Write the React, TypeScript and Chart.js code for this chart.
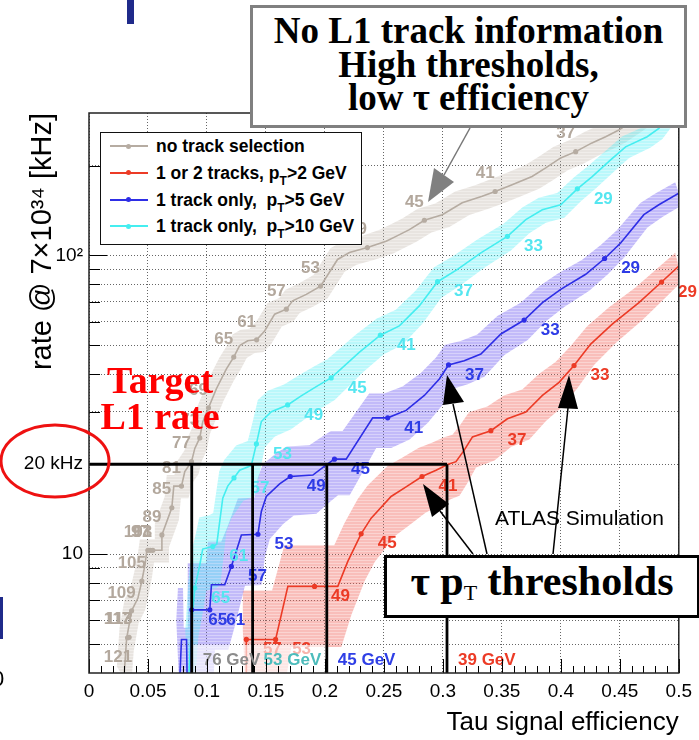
import React, { useEffect, useRef } from 'react';
import { Chart, registerables } from 'chart.js';

Chart.register(...registerables);

type Pt = [number, number];
type Dot = [number, number, number];

// x = tau signal efficiency, y = L1 rate @ 7e34 [kHz]
const grayCurve: Pt[] = [
  [0.0296, 3.86], [0.0319, 5.21], [0.0361, 6.46], [0.0415, 7.13], [0.0448, 8.13], [0.0474, 9.19],
  [0.0491, 10.3], [0.0541, 10.3], [0.0618, 10.3], [0.0618, 11.6], [0.0702, 14.3], [0.0719, 16.9],
  [0.0784, 16.9], [0.0812, 18.9], [0.0869, 20.4], [0.0897, 22.6], [0.0939, 24.5], [0.0964, 27.7],
  [0.108, 35.8], [0.1165, 41.7], [0.1227, 45.7], [0.1277, 49.9], [0.1345, 51.8], [0.1421, 52.2],
  [0.1489, 55.9], [0.1574, 63.6], [0.1673, 66.1], [0.1726, 70.5], [0.1842, 74.1], [0.1963, 79],
  [0.2053, 89.8], [0.2107, 97], [0.2208, 102.3], [0.236, 106.3], [0.2519, 111.6], [0.2603, 115.9],
  [0.2716, 122.1], [0.2843, 131.2], [0.2995, 137], [0.3164, 150.2], [0.3333, 157.8], [0.3443, 163.8],
  [0.3587, 172.5], [0.3756, 183.8], [0.3872, 196.4], [0.3999, 212.2], [0.4126, 222.7], [0.4264, 238.2],
  [0.438, 249.9], [0.4492, 263], [0.4704, 300], [0.483, 318],
];
const grayDots: Dot[] = [
  [0.033, 3.92, 121], [0.0327, 5.25, 117], [0.034, 5.27, 113], [0.0361, 6.46, 109], [0.0448, 8.13, 105],
  [0.0499, 10.3, 101], [0.052, 10.3, 97], [0.0541, 10.3, 93], [0.0618, 11.6, 89], [0.0702, 14.3, 85],
  [0.0784, 16.9, 81], [0.0869, 20.4, 77], [0.0939, 24.5, 73], [0.1013, 30.9, 69], [0.1227, 45.7, 65],
  [0.1421, 52.2, 61], [0.1673, 66.1, 57], [0.1963, 79, 53], [0.236, 106.3, 49], [0.2843, 131.2, 45],
  [0.3443, 163.8, 41], [0.4126, 222.7, 37],
];

const redCurve: Pt[] = [
  [0.1334, 3.58], [0.1334, 5.18], [0.1582, 5.18], [0.1686, 7.8], [0.1912, 7.8], [0.2109, 7.8],
  [0.2194, 9.46], [0.2307, 11.7], [0.2392, 13.2], [0.2561, 15.6], [0.2688, 16.8], [0.2823, 18.2],
  [0.2942, 19.1], [0.304, 19.95], [0.3111, 20.4], [0.3181, 22.3], [0.3251, 24.7], [0.3407, 25.9],
  [0.3547, 28.4], [0.3703, 29.9], [0.3844, 34], [0.3985, 37.6], [0.4112, 42.8], [0.4253, 50.5],
  [0.4436, 58.9], [0.4662, 69.5], [0.4854, 81.5], [0.5, 92.1],
];
const redDots: Dot[] = [
  [0.1334, 5.18, 57], [0.1582, 5.18, 53], [0.1912, 7.8, 49], [0.2307, 11.7, 45],
  [0.2823, 18.2, 41], [0.3407, 25.9, 37], [0.4112, 42.8, 33], [0.4854, 81.5, 29],
];

const blueCurve: Pt[] = [
  [0.077, 3.86], [0.0784, 5.18], [0.0827, 5.18], [0.0833, 3.58], [0.0867, 3.58], [0.0867, 6.51],
  [0.1024, 6.51], [0.1038, 7.9], [0.1151, 7.9], [0.1207, 9.1], [0.1292, 11.6], [0.1432, 11.66],
  [0.1461, 13.9], [0.1503, 15.6], [0.1616, 17.2], [0.1706, 18.2], [0.1898, 18.4], [0.2011, 19.9],
  [0.2081, 20.8], [0.218, 20.8], [0.2405, 28.6], [0.2532, 28.6], [0.2688, 30.3], [0.2843, 34],
  [0.297, 38.6], [0.3048, 43], [0.3181, 44.4], [0.3322, 46.8], [0.3492, 54.6], [0.3689, 60.8],
  [0.3844, 69.5], [0.3999, 77], [0.4211, 86.5], [0.4371, 97.7], [0.4507, 110.1], [0.4704, 137],
  [0.4831, 147.9], [0.5, 161.8],
];
const blueDots: Dot[] = [
  [0.0871, 6.51, 65], [0.1024, 6.51, 61], [0.1207, 9.1, 57], [0.1432, 11.66, 53], [0.1706, 18.2, 49],
  [0.2081, 20.8, 45], [0.2532, 28.6, 41], [0.3048, 43, 37], [0.3689, 60.8, 33], [0.4371, 97.7, 29],
];

const cyanCurve: Pt[] = [
  [0.0846, 3.86], [0.0871, 5.89], [0.0897, 7.7], [0.0939, 9.19], [0.0964, 10.4], [0.1049, 10.6],
  [0.1083, 10.8], [0.1134, 15.4], [0.1176, 16.9], [0.1229, 18.0], [0.1277, 19.1], [0.1376, 19.8],
  [0.1419, 23.4], [0.1461, 27.8], [0.1546, 30], [0.1684, 31.6], [0.1799, 33.9], [0.1937, 36.6],
  [0.2053, 38.9], [0.2293, 47.5], [0.247, 54.1], [0.2631, 58.1], [0.28, 67.8], [0.2955, 81.7],
  [0.3124, 89.8], [0.3322, 102.1], [0.3547, 115.9], [0.3703, 131.8], [0.3843, 142.3], [0.3999, 147.9],
  [0.414, 167.2], [0.4266, 183.8], [0.4422, 208.9], [0.4549, 231.1], [0.4732, 249.9], [0.4831, 266.5],
  [0.4932, 300], [0.5, 318],
];
const cyanDots: Dot[] = [
  [0.0897, 7.7, 65], [0.1049, 10.6, 61], [0.1229, 18.0, 57], [0.1419, 23.4, 53], [0.1684, 31.6, 49],
  [0.2053, 38.9, 45], [0.247, 54.1, 41], [0.2955, 81.7, 37], [0.3547, 115.9, 33], [0.414, 167.2, 29],
];

const targetRate = 20;
const thresholdEff = [0.0871, 0.1387, 0.2016, 0.3035];
const thresholdText = ['76 GeV', '53 GeV', '45 GeV', '39 GeV'];
const thresholdColors = ['#8c8c8c', '#4dbcbc', '#2f3fe6', '#ec3b26'];

const xMin = 0, xMax = 0.5, xStep = 0.05;
const yMin = 4, yMax = 300;
const yGridValues = [5, 6, 7, 8, 9, 10, 20, 30, 40, 50, 60, 70, 80, 90, 100, 200];
const yTickText: Record<number, string> = { 10: '10', 20: '20 kHz', 100: '10²' };

const legendPre = ['no track selection', '1 or 2 tracks, ', '1 track only,  ', '1 track only,  '];
const legendPost = ['', '>2 GeV', '>5 GeV', '>10 GeV'];

const SANS = '"Liberation Sans", Arial, Helvetica, sans-serif';
const SERIF = '"Liberation Serif", "Times New Roman", serif';

interface Series {
  curve: Pt[]; dots: Dot[]; line: string; label: string; band: string;
  relA: number; relB: number; dEff: number; lx: number; ly: number;
}

const SERIES: Series[] = [
  { curve: grayCurve, dots: grayDots, line: '#b6aca2', label: '#b3a89d', band: '200,190,180', relA: 0.09, relB: 0, dEff: 0.006, lx: -10, ly: -18 },
  { curve: redCurve, dots: redDots, line: '#ec3b26', label: '#ec3b26', band: '240,100,90', relA: 0, relB: 0.33, dEff: 0.003, lx: 26, ly: 10 },
  { curve: blueCurve, dots: blueDots, line: '#2e2ee6', label: '#2e3ce6', band: '110,90,240', relA: 0, relB: 0.35, dEff: 0.003, lx: 26, ly: 10 },
  { curve: cyanCurve, dots: cyanDots, line: '#45eef0', label: '#55e6f0', band: '90,238,245', relA: 0.03, relB: 0.25, dEff: 0.003, lx: 26, ly: 10 },
];
const legendColors = ['#b6aca2', '#ec3b26', '#2e2ee6', '#45eef0'];

function makePattern(ctx: CanvasRenderingContext2D, rgb: string) {
  const c = document.createElement('canvas');
  c.width = 4; c.height = 3;
  const g = c.getContext('2d')!;
  g.fillStyle = `rgba(${rgb},0.42)`; g.fillRect(0, 0, 4, 2);
  g.fillStyle = `rgba(${rgb},0.28)`; g.fillRect(0, 2, 4, 1);
  return ctx.createPattern(c, 'repeat');
}

function bandEdge(s: Series, upper: boolean): Pt[] {
  return s.curve.map(([x, y]) => {
    const r = s.relA + s.relB * Math.sqrt(10 / y);
    return upper ? [x - s.dEff, y * (1 + r)] : [x + s.dEff, y * Math.max(1 - r, 0.2)];
  });
}

export default function App() {
  const ref = useRef<HTMLCanvasElement>(null);

  useEffect(() => {
    document.body.style.margin = '0';
    const canvas = ref.current!;
    const ctx0 = canvas.getContext('2d')!;
    const patterns = SERIES.map((s) => makePattern(ctx0, s.band));

    const thrData: any[] = [{ x: xMin, y: targetRate }, { x: thresholdEff[3], y: targetRate }, { x: thresholdEff[3], y: null }];
    thresholdEff.forEach((e) => { thrData.push({ x: e, y: targetRate }, { x: e, y: yMin }, { x: e, y: null }); });

    const datasets: any[] = [
      { label: 'thresholds', data: thrData, borderColor: '#000', borderWidth: 2.8, pointRadius: 0, spanGaps: false, order: 0 },
    ];
    SERIES.forEach((s, i) => {
      datasets.push({ label: 'curve' + i, data: s.curve.map(([x, y]) => ({ x, y })), borderColor: s.line, borderWidth: 1.6, pointRadius: 0, tension: 0, order: 3 });
      datasets.push({ label: 'dots' + i, data: s.dots.map(([x, y]) => ({ x, y })), showLine: false, pointRadius: 2.6, pointBackgroundColor: s.line, pointBorderWidth: 0, order: 2 });
    });

    const bandPlugin = {
      id: 'bands',
      beforeDatasetsDraw(chart: any) {
        const { ctx, chartArea: ca, scales } = chart;
        const xs = scales.x, ys = scales.y;
        ctx.save();
        ctx.beginPath();
        ctx.rect(ca.left, ca.top, ca.right - ca.left, ca.bottom - ca.top);
        ctx.clip();
        SERIES.forEach((s, i) => {
          const up = bandEdge(s, true), lo = bandEdge(s, false);
          ctx.beginPath();
          up.forEach(([x, y], k) => {
            const px = xs.getPixelForValue(x), py = ys.getPixelForValue(y);
            if (k === 0) ctx.moveTo(px, py); else ctx.lineTo(px, py);
          });
          for (let k = lo.length - 1; k >= 0; k--) ctx.lineTo(xs.getPixelForValue(lo[k][0]), ys.getPixelForValue(lo[k][1]));
          ctx.closePath();
          ctx.fillStyle = patterns[i] as any;
          ctx.fill();
        });
        ctx.restore();
      },
      beforeDatasetDraw(chart: any, args: any) {
        if (chart.data.datasets[args.index].label !== 'thresholds') return;
        const { ctx, chartArea: ca, scales } = chart;
        const xs = scales.x, ys = scales.y;
        ctx.save();
        ctx.font = `bold 17px ${SANS}`;
        ctx.textAlign = 'center';
        ctx.textBaseline = 'middle';
        SERIES.forEach((s) => {
          ctx.fillStyle = s.label;
          s.dots.forEach(([x, y, t]) => ctx.fillText(String(t), xs.getPixelForValue(x) + s.lx, ys.getPixelForValue(y) + s.ly));
        });
        const x0 = xs.getPixelForValue(thresholdEff[0]);
        const x1 = xs.getPixelForValue(thresholdEff[2]);
        ctx.fillStyle = 'rgba(255,255,255,0.62)';
        ctx.fillRect(x0, ca.bottom - 28, x1 - x0, 28);
        ctx.restore();
      },
      afterDatasetsDraw(chart: any) {
        const { ctx, chartArea: ca, scales } = chart;
        const xs = scales.x, ys = scales.y;
        ctx.save();
        ctx.font = `bold 17px ${SANS}`;
        ctx.textAlign = 'left';
        ctx.textBaseline = 'middle';
        thresholdEff.forEach((e, i) => {
          ctx.fillStyle = thresholdColors[i];
          ctx.fillText(thresholdText[i], xs.getPixelForValue(e) + 11, ca.bottom - 13);
        });
        ctx.strokeStyle = '#000';
        ctx.lineWidth = 1;
        ctx.beginPath();
        for (let k = 0; k <= 50; k++) {
          const px = Math.round(xs.getPixelForValue(k / 100)) + 0.5;
          const len = k % 5 === 0 ? 14 : 7;
          ctx.moveTo(px, ca.bottom); ctx.lineTo(px, ca.bottom - len);
        }
        yGridValues.forEach((v) => {
          const py = Math.round(ys.getPixelForValue(v)) + 0.5;
          const len = v === 10 || v === 100 ? 18 : 11;
          ctx.moveTo(ca.left, py); ctx.lineTo(ca.left + len, py);
        });
        ctx.stroke();
        ctx.lineWidth = 1.5;
        ctx.strokeStyle = '#222';
        ctx.strokeRect(ca.left, ca.top, ca.right - ca.left, ca.bottom - ca.top);
        ctx.restore();
      },
    };

    Chart.defaults.font.family = SANS;
    const chart = new Chart(canvas, {
      type: 'line',
      data: { datasets },
      options: {
        animation: false,
        responsive: false,
        devicePixelRatio: 1,
        events: [],
        layout: { padding: { top: 113, right: 18, left: 0, bottom: 0 } },
        plugins: { legend: { display: false }, tooltip: { enabled: false } },
        scales: {
          x: {
            type: 'linear', min: xMin, max: xMax,
            afterFit: (s: any) => { s.height = 67; },
            ticks: {
              stepSize: xStep, autoSkip: false, maxRotation: 0, padding: 7, color: '#000',
              font: { size: 19 },
              callback: (v: any) => String(Math.round(Number(v) * 100) / 100),
            },
            grid: { color: '#666', lineWidth: 1, drawTicks: false },
            border: { display: false, dash: [1, 2] },
            title: { display: true, text: 'Tau signal efficiency', align: 'end', color: '#000', font: { size: 26 }, padding: { top: 0, bottom: 2 } },
          },
          y: {
            type: 'logarithmic', min: yMin, max: yMax,
            afterFit: (s: any) => { s.width = 89; },
            afterBuildTicks: (s: any) => { s.ticks = yGridValues.map((v) => ({ value: v })); },
            ticks: {
              autoSkip: false, padding: 6, color: '#000',
              font: { size: 19 },
              callback: (v: any) => yTickText[Number(v)] ?? '',
            },
            grid: { color: '#666', lineWidth: 1, drawTicks: false },
            border: { display: false, dash: [1, 2] },
            title: { display: true, text: 'rate @ 7×10³⁴ [kHz]', align: 'end', color: '#000', font: { size: 29 }, padding: { top: 26, bottom: 0 } },
          },
        },
      } as any,
      plugins: [bandPlugin],
    });
    return () => chart.destroy();
  }, []);

  const abs: React.CSSProperties = { position: 'absolute' };

  return (
    <div style={{ position: 'absolute', left: 0, top: 0, width: 699, height: 740, overflow: 'hidden', background: '#fff', fontFamily: SANS }}>
      <canvas ref={ref} width={699} height={740} style={{ ...abs, left: 0, top: 0 }} />

      {/* stray slide fragments */}
      <div style={{ ...abs, left: 127, top: 0, width: 7, height: 24, background: '#1f2a8a' }} />
      <div style={{ ...abs, left: 0, top: 597, width: 3, height: 42, background: '#1f2a8a' }} />
      <div style={{ ...abs, left: -8, top: 667, fontSize: 22, lineHeight: '24px', color: '#000' }}>0</div>

      <div style={{ ...abs, left: 60, top: 362, width: 200, textAlign: 'center', color: '#ff0000', fontFamily: SERIF, fontWeight: 700, fontSize: 38, lineHeight: '36px' }}>
        Target<br />L1 rate
      </div>

      <div style={{ ...abs, left: 495, top: 506, fontSize: 21, lineHeight: '24px', color: '#000', whiteSpace: 'nowrap' }}>ATLAS Simulation</div>

      {/* legend */}
      <div style={{ ...abs, left: 100, top: 132, width: 262, height: 113, boxSizing: 'border-box', border: '1.5px solid #111', background: '#fff' }}>
        {legendPre.map((pre, i) => (
          <div key={i} style={{ ...abs, left: 0, top: 13.2 + i * 26.7 - 11, height: 22, width: 258 }}>
            <div style={{ ...abs, left: 8.5, top: 10, width: 38, height: 2, background: legendColors[i] }} />
            <div style={{ ...abs, left: 25, top: 8.5, width: 5, height: 5, borderRadius: '50%', background: legendColors[i] }} />
            <div style={{ ...abs, left: 55, top: 0, lineHeight: '22px', fontSize: 17.5, fontWeight: 700, whiteSpace: 'pre', color: '#000' }}>
              {pre}
              {legendPost[i] ? (
                <>p<span style={{ fontSize: 12, position: 'relative', top: 6 }}>T</span>{legendPost[i]}</>
              ) : null}
            </div>
          </div>
        ))}
      </div>

      {/* top annotation box */}
      <div style={{ ...abs, left: 250, top: 5, width: 437, height: 123, boxSizing: 'border-box', border: '3px solid #808080', background: '#fff', fontFamily: SERIF, fontWeight: 700, fontSize: 37, lineHeight: '33.5px', textAlign: 'center', paddingTop: 6, color: '#000', whiteSpace: 'nowrap' }}>
        <div>No L1 track information</div>
        <div>High thresholds,</div>
        <div>low τ efficiency</div>
      </div>

      {/* threshold box */}
      <div style={{ ...abs, left: 384, top: 555, width: 316, height: 63, boxSizing: 'border-box', border: '3px solid #000', background: '#fff', fontFamily: SERIF, fontWeight: 700, fontSize: 42, lineHeight: '46px', textAlign: 'center', whiteSpace: 'nowrap', color: '#000' }}>
        τ p<span style={{ fontSize: 22, fontWeight: 400, position: 'relative', top: 5 }}>T</span> thresholds
      </div>

      <svg width={699} height={740} style={{ ...abs, left: 0, top: 0, pointerEvents: 'none' }}>
        <ellipse cx={55} cy={461} rx={54} ry={36} fill="none" stroke="#ee1111" strokeWidth={3} />
        <line x1={470} y1={128} x2={444} y2={175} stroke="#777" strokeWidth={1.5} />
        <polygon points="428,202 434,168 454,182" fill="#808080" />
        <line x1={473} y1={554} x2={440} y2={511} stroke="#000" strokeWidth={1.5} />
        <polygon points="423,484 432,517 449,504" fill="#000" />
        <line x1={487} y1={554} x2={453} y2={404} stroke="#000" strokeWidth={1.5} />
        <polygon points="447,375 443,405 464,402" fill="#000" />
        <line x1={553} y1={554} x2={568} y2={408} stroke="#000" strokeWidth={1.5} />
        <polygon points="569,375 558,408 578,409" fill="#000" />
      </svg>
    </div>
  );
}
